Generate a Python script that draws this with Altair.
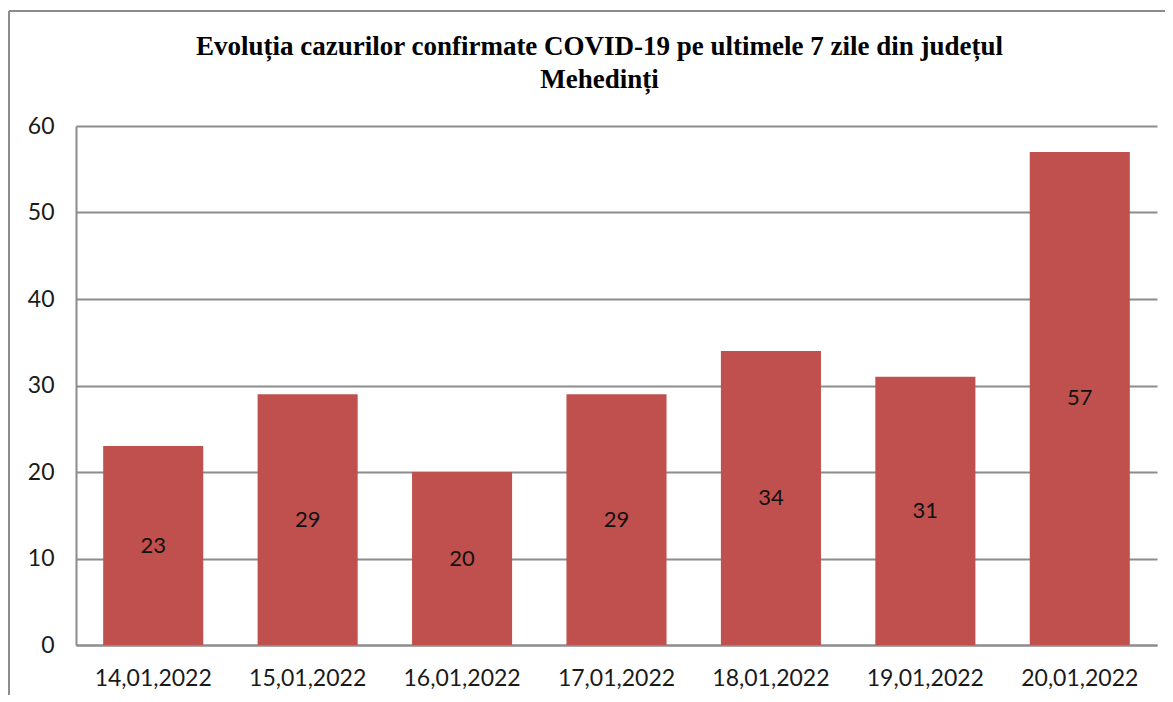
import altair as alt
import pandas as pd

dates = ["14,01,2022", "15,01,2022", "16,01,2022", "17,01,2022",
         "18,01,2022", "19,01,2022", "20,01,2022"]
cases = [23, 29, 20, 29, 34, 31, 57]
title_lines = ["Evoluția cazurilor  confirmate COVID-19 pe ultimele 7 zile din județul",
               "Mehedinți"]

df = pd.DataFrame({"date": dates, "cases": cases})

GRAY = "#8c8c8c"
SANS = "Lato"

x = alt.X("date:N", sort=dates, title=None,
          scale=alt.Scale(paddingInner=0.352, paddingOuter=0.176),
          axis=alt.Axis(labelAngle=0, labelFont=SANS, labelFontSize=23,
                        labelColor="#1a1a1a", labelPadding=22, ticks=False,
                        domainColor=GRAY, domainWidth=2, grid=False))
y = alt.Y("cases:Q", title=None,
          scale=alt.Scale(domain=[0, 60], nice=False),
          axis=alt.Axis(values=[0, 10, 20, 30, 40, 50, 60], labelFont=SANS,
                        labelFontSize=23, labelColor="#1a1a1a", labelPadding=22,
                        ticks=False, domainColor=GRAY, domainWidth=2,
                        gridColor=GRAY, gridWidth=2, gridOpacity=1))

base = alt.Chart(df)
bars = base.mark_bar(color="#C0504D").encode(x=x, y=y)
labels = base.transform_calculate(half="datum.cases / 2").mark_text(
    font=SANS, fontSize=22, color="#111111", baseline="middle"
).encode(x=alt.X("date:N", sort=dates), y=alt.Y("half:Q"), text="cases:Q")

frame_left = base.mark_rule(color=GRAY, strokeWidth=2).encode(
    x=alt.value(-67), y=alt.value(-115), y2=alt.value(600))
frame_top = base.mark_rule(color=GRAY, strokeWidth=2).encode(
    x=alt.value(-67), x2=alt.value(1120), y=alt.value(-115))

chart = alt.layer(frame_left, frame_top, bars, labels).properties(
    width=1081, height=519,
    padding={"left": 68, "top": 118, "right": 8, "bottom": 50},
    autosize=alt.AutoSizeParams(type="none"),
    title=alt.Title(text=title_lines, font="Liberation Serif", fontSize=27,
                    fontWeight="bold", color="#000000", lineHeight=33,
                    anchor="middle", dx=-17, offset=-84),
    background="white",
).configure_view(stroke=None)

chart.save("out.html", embed_options={"renderer": "svg", "actions": False})
